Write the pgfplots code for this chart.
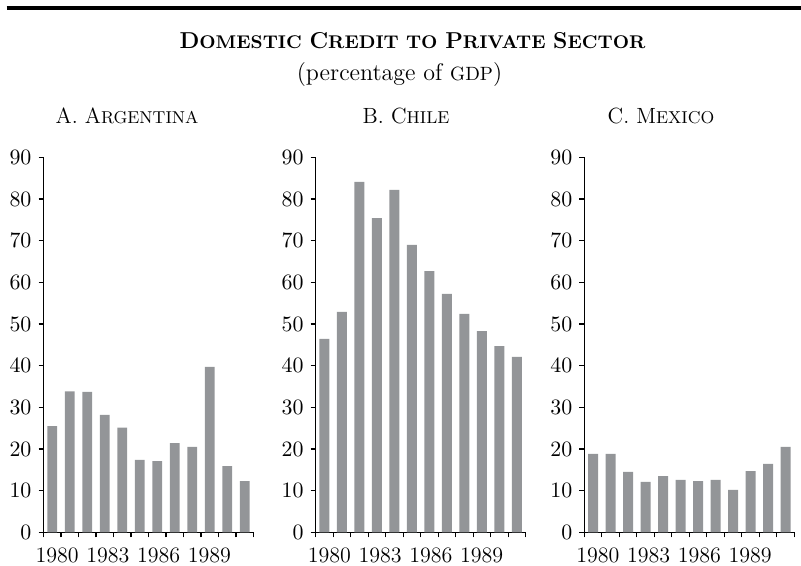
\documentclass[border=0pt]{standalone}
\usepackage{pgfplots}
\pgfplotsset{compat=1.18}
\definecolor{barcol}{RGB}{147,149,152}
\newcommand\bigc[1]{{\fontsize{11.5}{14}\selectfont #1}}
\newcommand\smc[1]{{\fontsize{9.2}{12}\selectfont #1}}
\newcommand\pbig[1]{{\fontsize{11}{13}\selectfont #1}}
\newcommand\psmc[1]{{\fontsize{8.6}{12}\selectfont #1}}
\pgfplotsset{
  panel/.style={
    scale only axis, width=105pt, height=187.5pt,
    xmin=0.5, xmax=12.5, ymin=0, ymax=90,
    axis x line*=bottom, axis y line*=left,
    ytick={0,10,20,30,40,50,60,70,80,90},
    xtick={0.5,1.5,2.5,3.5,4.5,5.5,6.5,7.5,8.5,9.5,10.5,11.5,12.5},
    xticklabels={},
    extra x ticks={1.28,4.18,7.08,9.98},
    extra x tick labels={1980,1983,1986,1989},
    extra x tick style={major tick length=0pt, xticklabel style={yshift=-4pt, font=\fontsize{11}{12}\selectfont}},
    tick align=outside, major tick length=2.5pt,
    tick style={black, line width=0.6pt},
    axis line style={black, line width=0.6pt},
    tick label style={font=\fontsize{10.5}{12}\selectfont},
    ybar, bar width=0.57,
  }
}
\begin{document}
\begin{tikzpicture}[x=1pt,y=1pt]
\path[use as bounding box] (0,0) rectangle (400.5,-283);
\draw[line width=2pt] (3.35,-4) -- (400.5,-4);
\node[anchor=base, inner sep=0pt] at (206.25,-24.15) {\bfseries \bigc{D}\smc{OMESTIC} \bigc{C}\smc{REDIT TO} \bigc{P}\smc{RIVATE} \bigc{S}\smc{ECTOR}};
\node[anchor=base, inner sep=0pt] at (199.75,-40.5) {\fontsize{12}{14}\selectfont (percentage of {\fontsize{9.6}{12}\selectfont GDP})};
\node[anchor=base, inner sep=0pt] at (63.5,-62) {\pbig{A. A}\psmc{RGENTINA}};
\node[anchor=base, inner sep=0pt] at (203,-62) {\pbig{B. C}\psmc{HILE}};
\node[anchor=base, inner sep=0pt] at (330.5,-62) {\pbig{C. M}\psmc{EXICO}};
\begin{axis}[panel, at={(21.75pt,-266.15pt)}, anchor=south west]
\addplot[fill=barcol, draw=none] coordinates {(1,25.5) (2,33.8) (3,33.7) (4,28.2) (5,25.1) (6,17.4) (7,17.1) (8,21.4) (9,20.5) (10,39.7) (11,15.9) (12,12.3)};
\end{axis}
\begin{axis}[panel, at={(157.85pt,-266.15pt)}, anchor=south west]
\addplot[fill=barcol, draw=none] coordinates {(1,46.4) (2,52.9) (3,84.1) (4,75.4) (5,82.2) (6,69.0) (7,62.7) (8,57.2) (9,52.4) (10,48.3) (11,44.7) (12,42.1)};
\end{axis}
\begin{axis}[panel, at={(292.15pt,-266.15pt)}, anchor=south west]
\addplot[fill=barcol, draw=none] coordinates {(1,18.8) (2,18.8) (3,14.5) (4,12.1) (5,13.5) (6,12.6) (7,12.3) (8,12.6) (9,10.2) (10,14.7) (11,16.4) (12,20.5)};
\end{axis}
\end{tikzpicture}
\end{document}
